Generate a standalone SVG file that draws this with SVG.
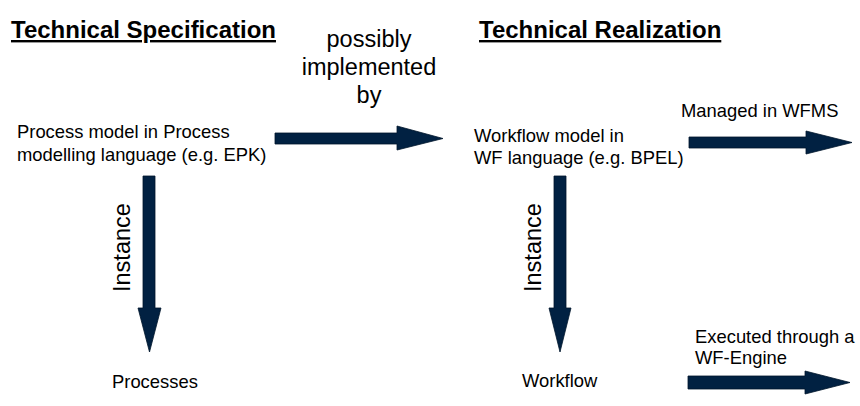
<svg xmlns="http://www.w3.org/2000/svg" width="860" height="406" viewBox="0 0 860 406">
<style>
text{font-family:"Liberation Sans",Arial,sans-serif;fill:#000}
.h{font-size:24px;font-weight:bold;text-decoration:underline}
.t{font-size:18.4px}
.b{font-size:23.5px}
.arr{fill:#012142;stroke:#00152b;stroke-width:0.8}
</style>
<rect width="860" height="406" fill="#fff"/>
<g id="spec-title"><text class="h" x="11" y="38">Technical Specification</text></g>
<g id="real-title"><text class="h" x="479" y="38">Technical Realization</text></g>
<g id="process-model"><text class="t" x="17" y="138">Process model in Process</text><text class="t" x="17" y="161">modelling language (e.g. EPK)</text></g>
<g id="workflow-model"><text class="t" x="474" y="142">Workflow model in</text><text class="t" x="474" y="164">WF language (e.g. BPEL)</text></g>
<g id="processes"><text class="t" x="112" y="388">Processes</text></g>
<g id="workflow"><text class="t" x="522" y="387">Workflow</text></g>
<g id="connectors">
<polygon class="arr" points="275,133 397,133 397,126 443,138.5 397,150 397,144 275,144"/>
<polygon class="arr" points="689,137 806,137 806,131 852,142.5 806,154 806,148 689,148"/>
<polygon class="arr" points="688,376 805,376 805,371 850,382.5 805,394 805,389 688,389"/>
<polygon class="arr" points="143,176 155,176 155,308 161,308 149.5,352 138,308 143,308"/>
<polygon class="arr" points="554,176 566,176 566,308 571,308 560,352 549,308 554,308"/>
<text class="b" text-anchor="middle" x="369" y="47">possibly</text>
<text class="b" text-anchor="middle" x="369" y="75">implemented</text>
<text class="b" text-anchor="middle" x="369" y="103">by</text>
<text class="t" x="681" y="117">Managed in WFMS</text>
<text class="t" x="695" y="343">Executed through a</text>
<text class="t" x="695" y="364">WF-Engine</text>
<text class="b" transform="translate(130,292) rotate(-90)">Instance</text>
<text class="b" transform="translate(541,292) rotate(-90)">Instance</text>
</g>
</svg>
